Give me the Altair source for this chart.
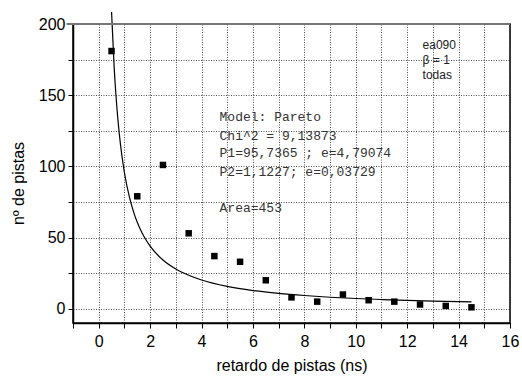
import altair as alt
import pandas as pd

# measured points (retardo de pistas, nº de pistas)
px = [0.5, 1.5, 2.5, 3.5, 4.5, 5.5, 6.5, 7.5, 8.5, 9.5, 10.5, 11.5, 12.5, 13.5, 14.5]
py = [181, 79, 101, 53, 37, 33, 20, 8, 5, 10, 6, 5, 3, 2, 1]

# fitted Pareto curve
cx = [0.5, 0.6, 0.7, 0.8, 0.9, 1.0, 1.2, 1.4, 1.6, 1.8, 2.0, 2.5, 3.0, 3.5, 4.0,
      5.0, 6.0, 7.0, 8.0, 9.0, 10.0, 11.0, 12.0, 13.0, 14.0, 14.5]
cy = [208.5, 169.9, 142.9, 123.0, 107.8, 95.7, 78.0, 65.6, 56.5, 49.5, 44.0, 34.2,
      27.9, 23.5, 20.2, 15.7, 12.8, 10.8, 9.3, 8.1, 7.2, 6.5, 5.9, 5.4, 5.0, 4.8]

model_lines = ["Model: Pareto", "Chi^2 = 9,13873", "P1=95,7365 ; e=4,79074",
               "P2=1,1227; e=0,03729", "Area=453"]
model_y = [135, 121.6, 109.6, 96.3, 70.6]
model_x = 4.7

label_lines = ["ea090", "β = 1", "todas"]
label_y = [185, 174.5, 164]
label_x = 12.6

x_ticks = list(range(-1, 17))
y_ticks = list(range(0, 201, 25))

# top frame line (y = 200)
frame_top = pd.DataFrame({"x": [-1.25], "x2": [16], "y": [200]})

pts = pd.DataFrame({"x": px, "y": py})
curve = pd.DataFrame({"x": cx, "y": cy})
model = pd.DataFrame({"x": [model_x] * len(model_lines), "y": model_y, "t": model_lines})
lab = pd.DataFrame({"x": [label_x] * len(label_lines), "y": label_y, "t": label_lines})

xs = alt.Scale(domain=[-1, 16], nice=False, zero=False)
ys = alt.Scale(domain=[-10, 200], nice=False, zero=False)

xax = alt.Axis(values=x_ticks, labelExpr="(datum.value % 2 == 0) ? ('' + datum.value) : ''",
               labelOverlap=False, labelFlush=False, labelBound=False,
               title="retardo de pistas (ns)")
yax = alt.Axis(values=y_ticks, labelExpr="datum.value % 50 == 0 ? datum.label : ''",
               labelOverlap=False, labelFlush=False,
               title="nº de pistas", titleY=159, titleX=-50, titleAngle=-90,
               titleAlign="center", titleBaseline="alphabetic")

X = alt.X("x:Q", scale=xs, axis=xax)
Y = alt.Y("y:Q", scale=ys, axis=yax)

line = alt.Chart(curve).mark_line(color="black", strokeWidth=1.2, interpolate="monotone").encode(
    x=X, y=Y)
points = alt.Chart(pts).mark_point(shape="square", filled=True, color="black", size=42, opacity=1).encode(
    x=X, y=Y)
top = alt.Chart(frame_top).mark_rule(color="#777777", strokeWidth=2).encode(
    x=X, x2="x2:Q", y=Y)
mtext = alt.Chart(model).mark_text(font="Liberation Mono", fontSize=13, align="left",
                                   baseline="middle", color="#333333").encode(
    x=X, y=Y, text="t:N")
ltext = alt.Chart(lab).mark_text(font="Liberation Sans", fontSize=12, align="left",
                                 baseline="middle", color="#222222").encode(
    x=X, y=Y, text="t:N")

chart = alt.layer(line, points, top, mtext, ltext).properties(
    width=437, height=299,
    autosize=alt.AutoSizeParams(type="none"),
    padding={"left": 73, "top": 24, "right": 12, "bottom": 53},
).configure_view(
    stroke="black", strokeWidth=1.5
).configure_axis(
    labelFont="Liberation Sans", titleFont="Liberation Sans",
    labelFontSize=16, titleFontSize=16, labelColor="black", titleColor="black",
    titleFontWeight="normal",
    domainColor="black", domainWidth=1.5, tickColor="black", tickSize=5, tickWidth=1,
    gridColor="#222222", gridDash=[1, 1.5], gridWidth=0.8, gridOpacity=1,
    labelPadding=3,
).configure_axisX(titlePadding=8, labelPadding=5)

chart.save("out.html", embed_options={"renderer": "svg", "actions": False})
